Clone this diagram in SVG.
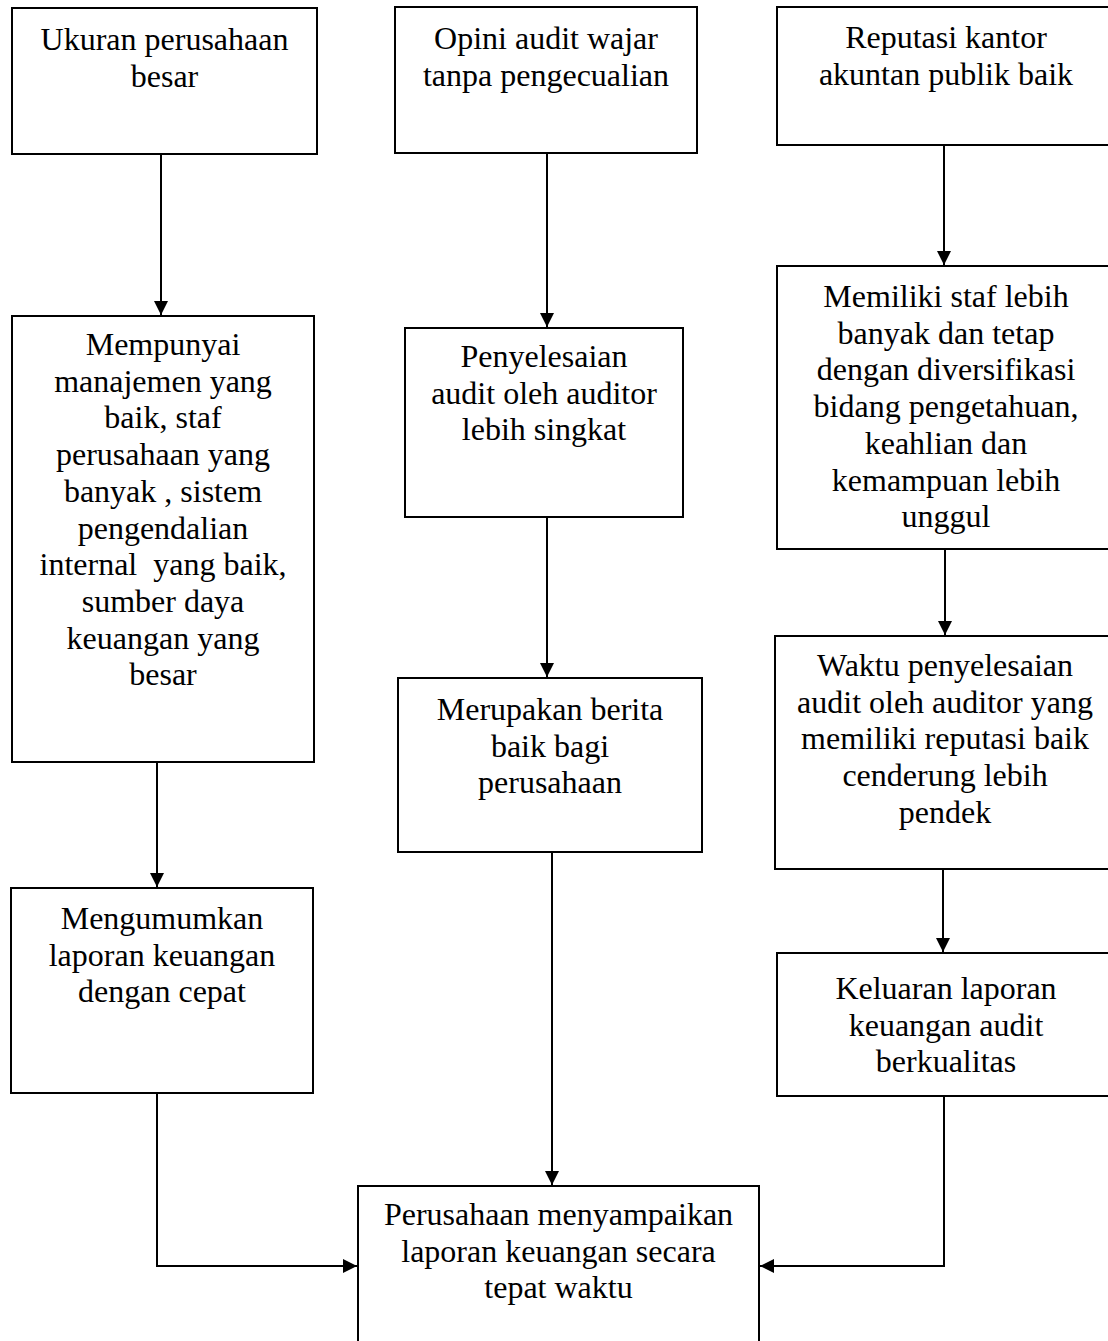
<svg xmlns="http://www.w3.org/2000/svg" width="1108" height="1341" viewBox="0 0 1108 1341">
<style>
.box{fill:#ffffff;stroke:#000000;stroke-width:2}
.t{font-family:"Liberation Serif","Times New Roman",serif;font-size:32px;fill:#000000;text-anchor:middle;white-space:pre}
.c{fill:none;stroke:#000000;stroke-width:2}
</style>
<defs>
<marker id="ah" markerUnits="userSpaceOnUse" markerWidth="15" markerHeight="15" refX="14" refY="7" orient="auto">
<path d="M0,0 L14,7 L0,14 z" fill="#000000"/>
</marker>
</defs>
<rect width="1108" height="1341" fill="#ffffff"/>
<g id="connectors">
<line class="c" x1="161" y1="154" x2="161" y2="315" marker-end="url(#ah)"/>
<line class="c" x1="547" y1="153" x2="547" y2="327" marker-end="url(#ah)"/>
<line class="c" x1="944" y1="145" x2="944" y2="265" marker-end="url(#ah)"/>
<line class="c" x1="157" y1="762" x2="157" y2="887" marker-end="url(#ah)"/>
<line class="c" x1="547" y1="517" x2="547" y2="677" marker-end="url(#ah)"/>
<line class="c" x1="945" y1="549" x2="945" y2="635" marker-end="url(#ah)"/>
<line class="c" x1="943" y1="869" x2="943" y2="952" marker-end="url(#ah)"/>
<line class="c" x1="552" y1="852" x2="552" y2="1185" marker-end="url(#ah)"/>
<polyline class="c" points="157,1093 157,1266 357,1266" marker-end="url(#ah)"/>
<polyline class="c" points="944,1096 944,1266 760,1266" marker-end="url(#ah)"/>
</g>
<g id="n1">
<rect class="box" x="12" y="8" width="305" height="146"/>
<text class="t" x="164.5" y="50"><tspan x="164.5">Ukuran perusahaan</tspan><tspan x="164.5" dy="36.7">besar</tspan></text>
</g>
<g id="n2">
<rect class="box" x="395" y="7" width="302" height="146"/>
<text class="t" x="546" y="49"><tspan x="546">Opini audit wajar</tspan><tspan x="546" dy="36.7">tanpa pengecualian</tspan></text>
</g>
<g id="n3">
<rect class="box" x="777" y="7" width="338" height="138"/>
<text class="t" x="946" y="48"><tspan x="946">Reputasi kantor</tspan><tspan x="946" dy="36.7">akuntan publik baik</tspan></text>
</g>
<g id="n4">
<rect class="box" x="12" y="316" width="302" height="446"/>
<text class="t" x="163" y="355"><tspan x="163">Mempunyai</tspan><tspan x="163" dy="36.7">manajemen yang</tspan><tspan x="163" dy="36.7">baik, staf</tspan><tspan x="163" dy="36.7">perusahaan yang</tspan><tspan x="163" dy="36.7">banyak , sistem</tspan><tspan x="163" dy="36.7">pengendalian</tspan><tspan x="163" dy="36.7">internal  yang baik,</tspan><tspan x="163" dy="36.7">sumber daya</tspan><tspan x="163" dy="36.7">keuangan yang</tspan><tspan x="163" dy="36.7">besar</tspan></text>
</g>
<g id="n5">
<rect class="box" x="405" y="328" width="278" height="189"/>
<text class="t" x="544" y="367"><tspan x="544">Penyelesaian</tspan><tspan x="544" dy="36.7">audit oleh auditor</tspan><tspan x="544" dy="36.7">lebih singkat</tspan></text>
</g>
<g id="n6">
<rect class="box" x="777" y="266" width="338" height="283"/>
<text class="t" x="946" y="307"><tspan x="946">Memiliki staf lebih</tspan><tspan x="946" dy="36.7">banyak dan tetap</tspan><tspan x="946" dy="36.7">dengan diversifikasi</tspan><tspan x="946" dy="36.7">bidang pengetahuan,</tspan><tspan x="946" dy="36.7">keahlian dan</tspan><tspan x="946" dy="36.7">kemampuan lebih</tspan><tspan x="946" dy="36.7">unggul</tspan></text>
</g>
<g id="n7">
<rect class="box" x="398" y="678" width="304" height="174"/>
<text class="t" x="550" y="720"><tspan x="550">Merupakan berita</tspan><tspan x="550" dy="36.7">baik bagi</tspan><tspan x="550" dy="36.7">perusahaan</tspan></text>
</g>
<g id="n8">
<rect class="box" x="775" y="636" width="340" height="233"/>
<text class="t" x="945" y="676"><tspan x="945">Waktu penyelesaian</tspan><tspan x="945" dy="36.7">audit oleh auditor yang</tspan><tspan x="945" dy="36.7">memiliki reputasi baik</tspan><tspan x="945" dy="36.7">cenderung lebih</tspan><tspan x="945" dy="36.7">pendek</tspan></text>
</g>
<g id="n9">
<rect class="box" x="11" y="888" width="302" height="205"/>
<text class="t" x="162" y="929"><tspan x="162">Mengumumkan</tspan><tspan x="162" dy="36.7">laporan keuangan</tspan><tspan x="162" dy="36.7">dengan cepat</tspan></text>
</g>
<g id="n10">
<rect class="box" x="777" y="953" width="338" height="143"/>
<text class="t" x="946" y="999"><tspan x="946">Keluaran laporan</tspan><tspan x="946" dy="36.7">keuangan audit</tspan><tspan x="946" dy="36.7">berkualitas</tspan></text>
</g>
<g id="n11">
<rect class="box" x="358" y="1186" width="401" height="170"/>
<text class="t" x="558.5" y="1225"><tspan x="558.5">Perusahaan menyampaikan</tspan><tspan x="558.5" dy="36.7">laporan keuangan secara</tspan><tspan x="558.5" dy="36.7">tepat waktu</tspan></text>
</g>
</svg>
